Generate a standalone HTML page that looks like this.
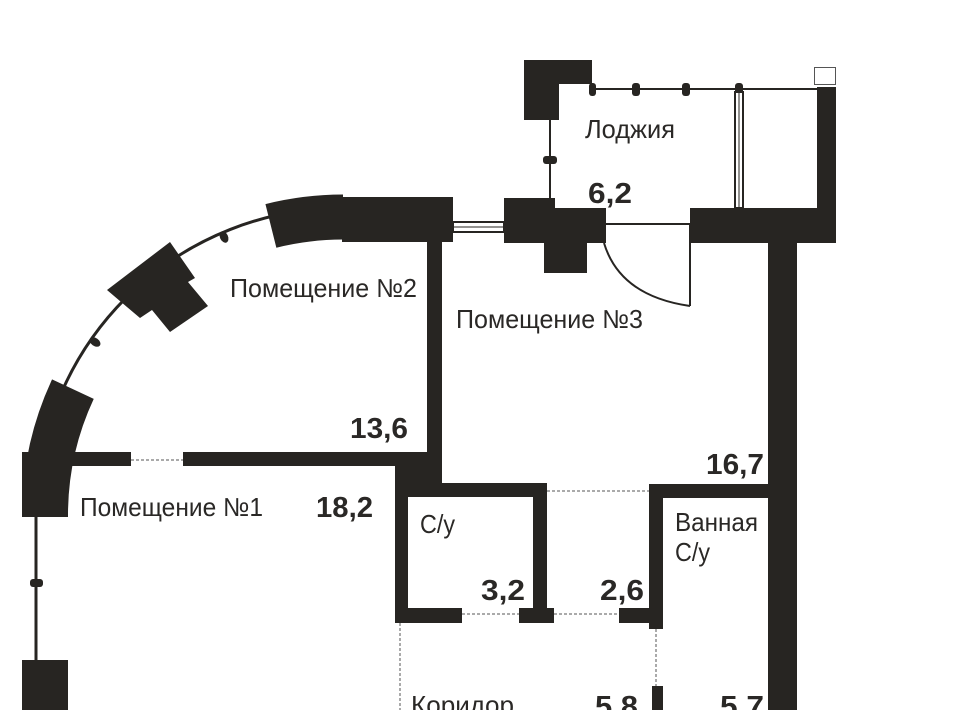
<!DOCTYPE html>
<html><head><meta charset="utf-8"><style>
html,body{margin:0;padding:0;background:#fff;}
svg{display:block}
text{font-family:"Liberation Sans",sans-serif;fill:#2a2826}
.n{font-size:26px}
.b{font-size:29px;font-weight:bold}
</style></head><body>
<svg width="960" height="710" viewBox="0 0 960 710" xmlns="http://www.w3.org/2000/svg">
<g fill="#272522" stroke="none">
<path d="M36 515 A307 307 0 0 1 343 208" fill="none" stroke="#272522" stroke-width="3"/>
<line x1="36" y1="515" x2="36" y2="662" stroke="#272522" stroke-width="3"/>
<path d="M72.9 389.1 A298 298 0 0 0 45 515" fill="none" stroke="#272522" stroke-width="46"/>
<rect x="22" y="452" width="46" height="65"/>
<path d="M270.9 225.9 A298 298 0 0 1 343 217" fill="none" stroke="#272522" stroke-width="45"/>
<rect x="342" y="197" width="111" height="45"/>
<polygon points="107,290 170,242 195,278 188,282 208,306 170,332 152,310 140,318"/>
<ellipse cx="224" cy="237" rx="4" ry="6" transform="rotate(-25 224 237)"/>
<ellipse cx="95" cy="342" rx="4" ry="6" transform="rotate(-55 95 342)"/>
<rect x="30" y="579" width="13" height="8" rx="3"/>
<rect x="22" y="660" width="46" height="50"/>
<rect x="427" y="198" width="15" height="287"/>
<rect x="68" y="452" width="63" height="14"/>
<rect x="183" y="452" width="259" height="14"/>
<line x1="131" y1="460" x2="183" y2="460" stroke="#555" stroke-width="1" stroke-dasharray="3,2"/>
<rect x="395" y="452" width="47" height="33"/>
<rect x="395" y="452" width="13" height="171"/>
<rect x="395" y="483" width="152" height="14"/>
<rect x="533" y="483" width="14" height="140"/>
<rect x="395" y="608" width="67" height="15"/>
<rect x="519" y="608" width="35" height="15"/>
<line x1="462" y1="614" x2="519" y2="614" stroke="#555" stroke-width="1" stroke-dasharray="3,2"/>
<line x1="554" y1="614" x2="619" y2="614" stroke="#555" stroke-width="1" stroke-dasharray="3,2"/>
<line x1="547" y1="491" x2="649" y2="491" stroke="#555" stroke-width="1" stroke-dasharray="3,2"/>
<rect x="649" y="484" width="14" height="145"/>
<rect x="649" y="484" width="121" height="14"/>
<rect x="619" y="608" width="44" height="15"/>
<line x1="400" y1="623" x2="400" y2="710" stroke="#555" stroke-width="1" stroke-dasharray="3,2"/>
<line x1="656" y1="629" x2="656" y2="686" stroke="#555" stroke-width="1" stroke-dasharray="3,2"/>
<rect x="652" y="686" width="11" height="24"/>
<rect x="768" y="208" width="29" height="502"/>
<rect x="690" y="208" width="146" height="35"/>
<rect x="817" y="87" width="19" height="156"/>
<rect x="814.5" y="67.5" width="21" height="17" fill="#fff" stroke="#555" stroke-width="1"/>
<line x1="592" y1="89" x2="817" y2="89" stroke="#272522" stroke-width="2"/>
<rect x="632" y="83" width="8" height="13" rx="3"/>
<rect x="682" y="83" width="8" height="13" rx="3"/>
<rect x="735" y="83" width="8" height="13" rx="3"/>
<rect x="589" y="83" width="7" height="13" rx="3"/>
<polygon points="524,60 592,60 592,84 559,84 559,120 524,120"/>
<line x1="550" y1="120" x2="550" y2="200" stroke="#272522" stroke-width="2"/>
<rect x="543" y="156" width="14" height="8" rx="3"/>
<rect x="735" y="92" width="8" height="116" fill="#fff" stroke="#272522" stroke-width="2"/>
<line x1="739" y1="92" x2="739" y2="208" stroke="#272522" stroke-width="1"/>
<polygon points="504,198 555,198 555,208 606,208 606,243 587,243 587,273 544,273 544,243 504,243"/>
<rect x="453" y="222" width="51" height="10" fill="#fff" stroke="#272522" stroke-width="2"/>
<line x1="453" y1="227" x2="504" y2="227" stroke="#272522" stroke-width="1"/>
<line x1="606" y1="224" x2="690" y2="224" stroke="#272522" stroke-width="2"/>
<line x1="690" y1="224" x2="690" y2="306" stroke="#272522" stroke-width="2"/>
<path d="M604 243 Q620 296 690 306" fill="none" stroke="#272522" stroke-width="2"/>
</g>
<text class="n" x="230" y="297" textLength="187" lengthAdjust="spacingAndGlyphs">Помещение №2</text>
<text class="n" x="456" y="328" textLength="187" lengthAdjust="spacingAndGlyphs">Помещение №3</text>
<text class="n" x="80" y="516" textLength="183" lengthAdjust="spacingAndGlyphs">Помещение №1</text>
<text class="n" x="585" y="138" textLength="90" lengthAdjust="spacingAndGlyphs">Лоджия</text>
<text class="n" x="420" y="533" textLength="35" lengthAdjust="spacingAndGlyphs">С/у</text>
<text class="n" x="675" y="531" textLength="83" lengthAdjust="spacingAndGlyphs">Ванная</text>
<text class="n" x="675" y="561" textLength="35" lengthAdjust="spacingAndGlyphs">С/у</text>
<text class="n" x="411" y="714" textLength="103" lengthAdjust="spacingAndGlyphs">Коридор</text>
<text class="b" x="350" y="438" textLength="58" lengthAdjust="spacingAndGlyphs">13,6</text>
<text class="b" x="316" y="517" textLength="57" lengthAdjust="spacingAndGlyphs">18,2</text>
<text class="b" x="588" y="203" textLength="44" lengthAdjust="spacingAndGlyphs">6,2</text>
<text class="b" x="706" y="474" textLength="58" lengthAdjust="spacingAndGlyphs">16,7</text>
<text class="b" x="481" y="600" textLength="44" lengthAdjust="spacingAndGlyphs">3,2</text>
<text class="b" x="600" y="600" textLength="44" lengthAdjust="spacingAndGlyphs">2,6</text>
<text class="b" x="595" y="716" textLength="43" lengthAdjust="spacingAndGlyphs">5,8</text>
<text class="b" x="720" y="716" textLength="44" lengthAdjust="spacingAndGlyphs">5,7</text>
</svg>
</body></html>
